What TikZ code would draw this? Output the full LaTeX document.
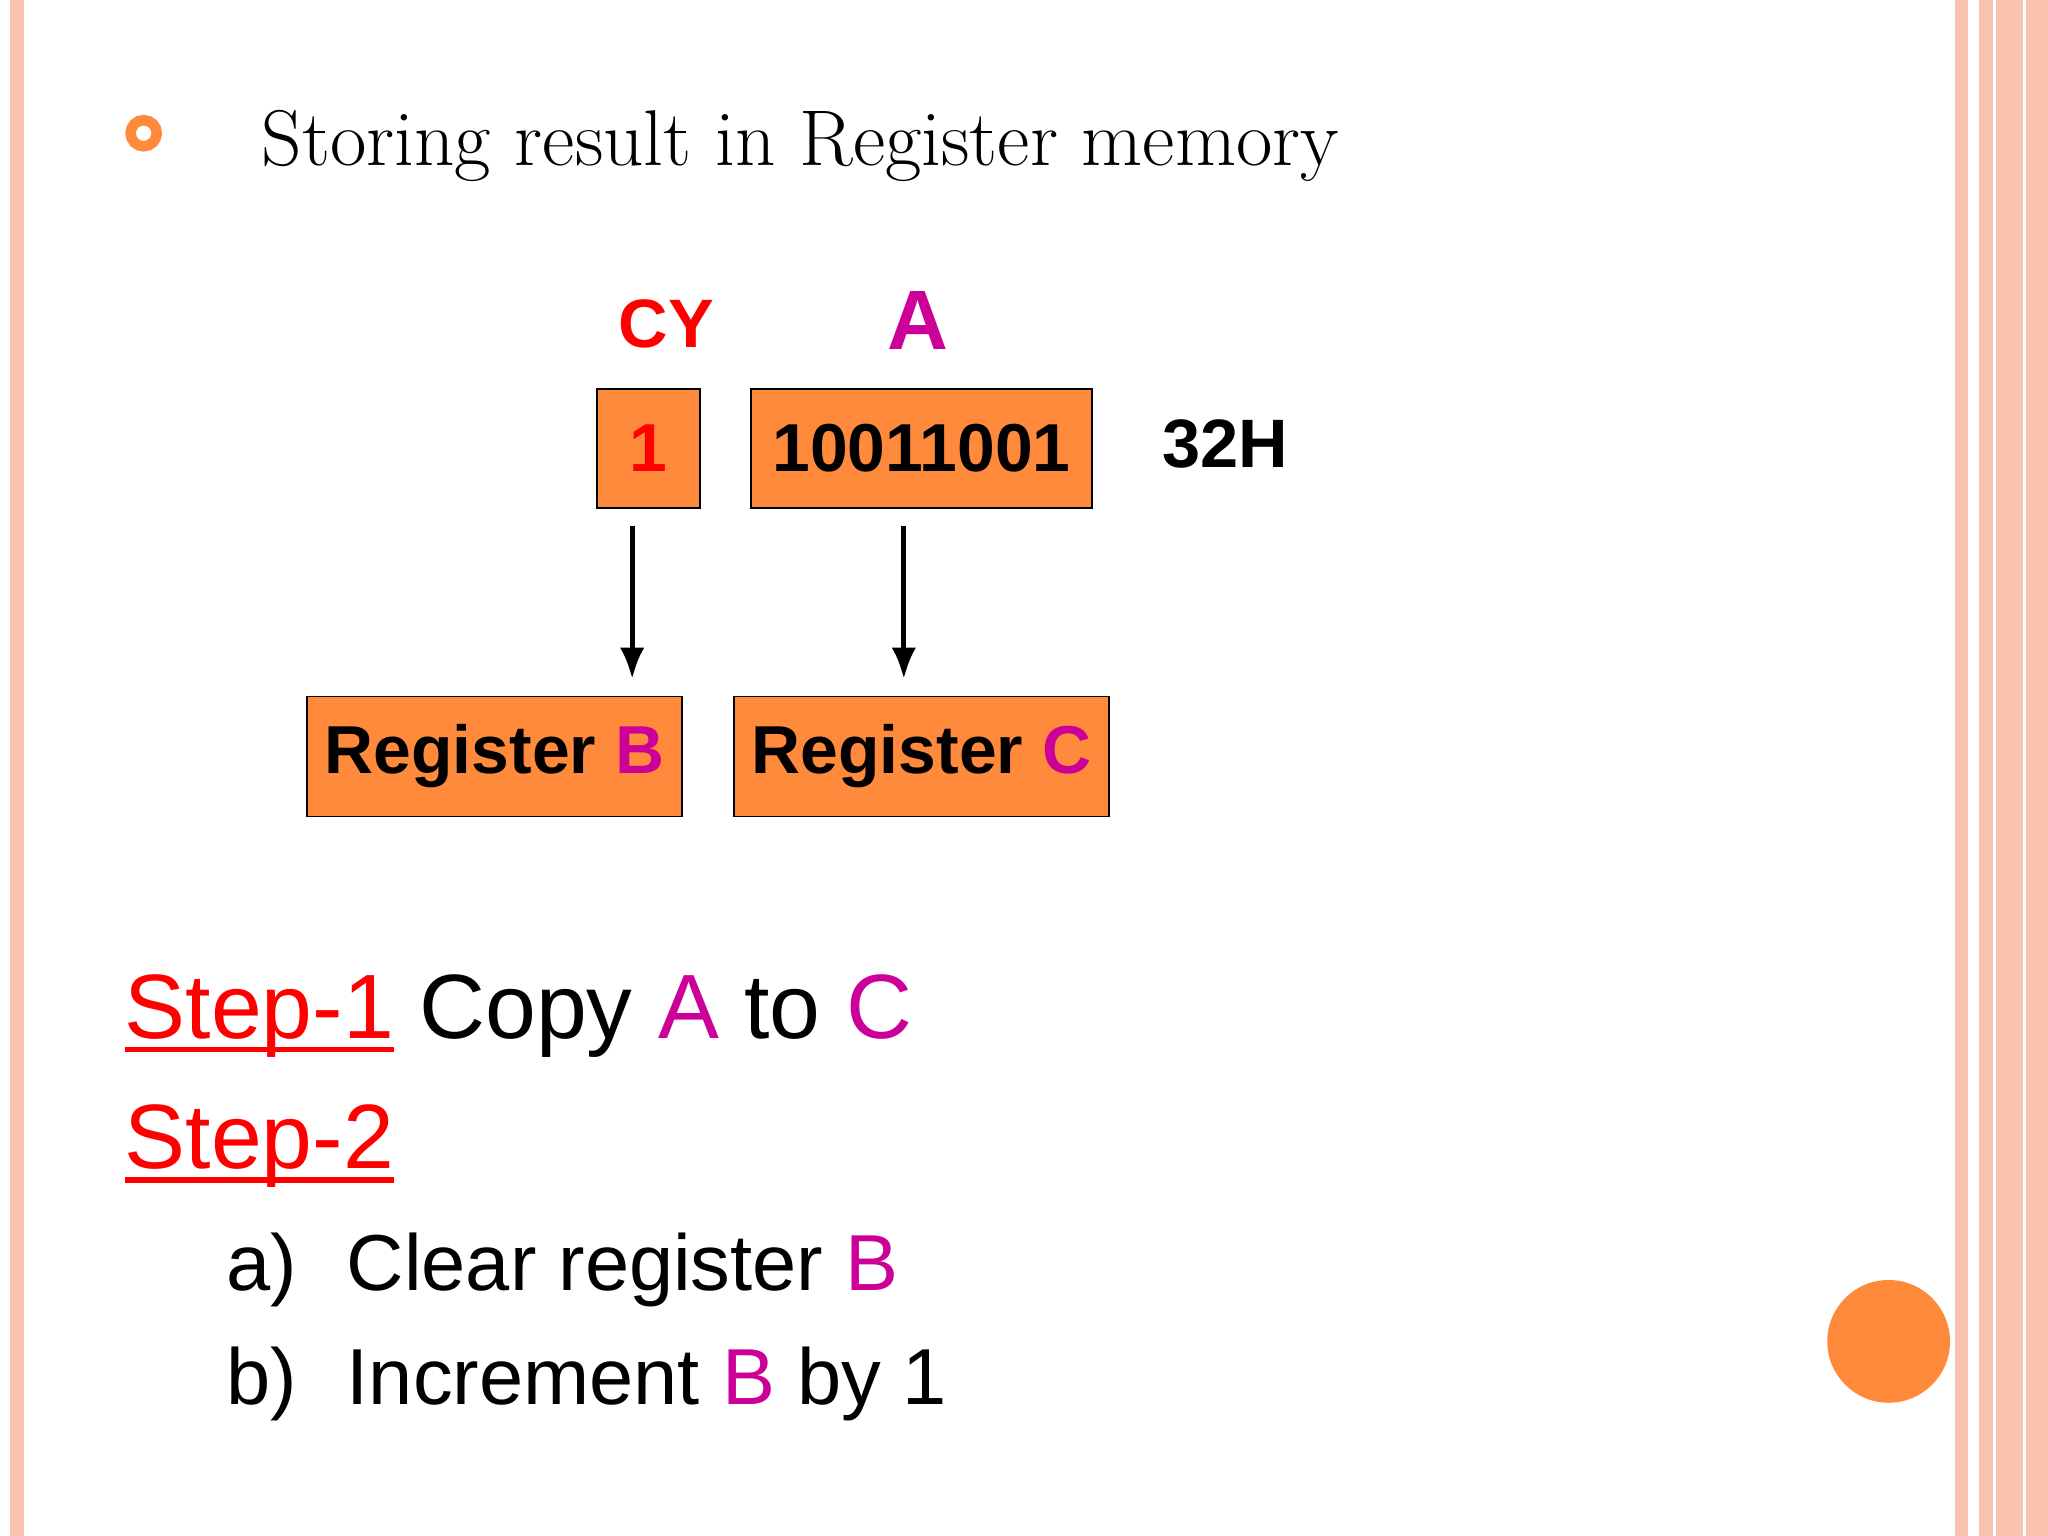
\documentclass[tikz,border=0pt]{standalone}
\usepackage{fontspec}
\usetikzlibrary{arrows.meta}
\newfontfamily\sans{Liberation Sans}
\newlength\myulw
\newcommand\myul[1]{\settowidth\myulw{#1}\rlap{\rule[-4pt]{\myulw}{1.6pt}}#1}
\begin{document}
\definecolor{org}{HTML}{FF8A3C}
\definecolor{mag}{HTML}{CC0099}
\definecolor{salmon}{HTML}{F9C3B0}
\begin{tikzpicture}[x=0.013061cm,y=-0.013061cm,
  box/.style={draw=black,fill=org,inner sep=0pt,font=\sans\bfseries\fontsize{19.3}{23}\selectfont},
  lab/.style={font=\sans\bfseries\fontsize{19.5}{23}\selectfont},
  big/.style={font=\sans\fontsize{26}{30}\selectfont,anchor=base west,inner sep=0pt},
  sm/.style={font=\sans\fontsize{22.6}{27}\selectfont,anchor=base west,inner sep=0pt},
  arr/.style={-{Latex[length=9pt,width=7pt]},line width=1.5pt}]
\useasboundingbox (0,0) rectangle (1568,1176);
\fill[white] (0,0) rectangle (1568,1176);
\fill[salmon] (8,0) rectangle (18,1176);
\fill[salmon] (1497,0) rectangle (1507,1176);
\fill[salmon] (1515,0) rectangle (1568,1176);
\draw[white,line width=1pt] (1527,0) -- (1527,1176) (1550,0) -- (1550,1176);
\draw[org,line width=3pt] (110,102) circle (10);
\node[anchor=base west,inner sep=0pt,font=\fontsize{22.5}{27}\selectfont] (title) at (200,127) {Storing result in Register memory};
\node[lab,text=red] (cy) at (510,248) {CY};
\node[lab,text=mag,font=\sans\bfseries\fontsize{24}{28}\selectfont] (a) at (703,245) {A};
\node[box,text=red] (one) at (496.5,343.5) [minimum width=1.03cm,minimum height=1.19cm] {1};
\node[box] (acc) at (705.5,343.5) [minimum width=3.41cm,minimum height=1.19cm] {10011001};
\node[lab] (h) at (938,340) {32H};
\node[box] (rb) at (378.5,579) [minimum width=3.75cm,minimum height=1.2cm] {Register \textcolor{mag}{B}};
\node[box] (rc) at (705.5,579) [minimum width=3.75cm,minimum height=1.2cm] {Register \textcolor{mag}{C}};
\coordinate (s1) at (484,403); \coordinate (e1) at (484,520);
\coordinate (s2) at (692,403); \coordinate (e2) at (692,520);
\draw[arr] (s1) -- (e1);
\draw[arr] (s2) -- (e2);
\node[big] (st1) at (95,795) {\textcolor{red}{\myul{Step-1}} Copy \textcolor{mag}{A} to \textcolor{mag}{C}};
\node[big] (st2) at (95,895) {\textcolor{red}{\myul{Step-2}}};
\node[sm] (la) at (173,988) {a)};
\node[sm] (ta) at (265,988) {Clear register \textcolor{mag}{B}};
\node[sm] (lb) at (173,1075) {b)};
\node[sm] (tb) at (265,1075) {Increment \textcolor{mag}{B} by 1};
\fill[org] (1446,1027) circle (47);
\end{tikzpicture}
\end{document}
